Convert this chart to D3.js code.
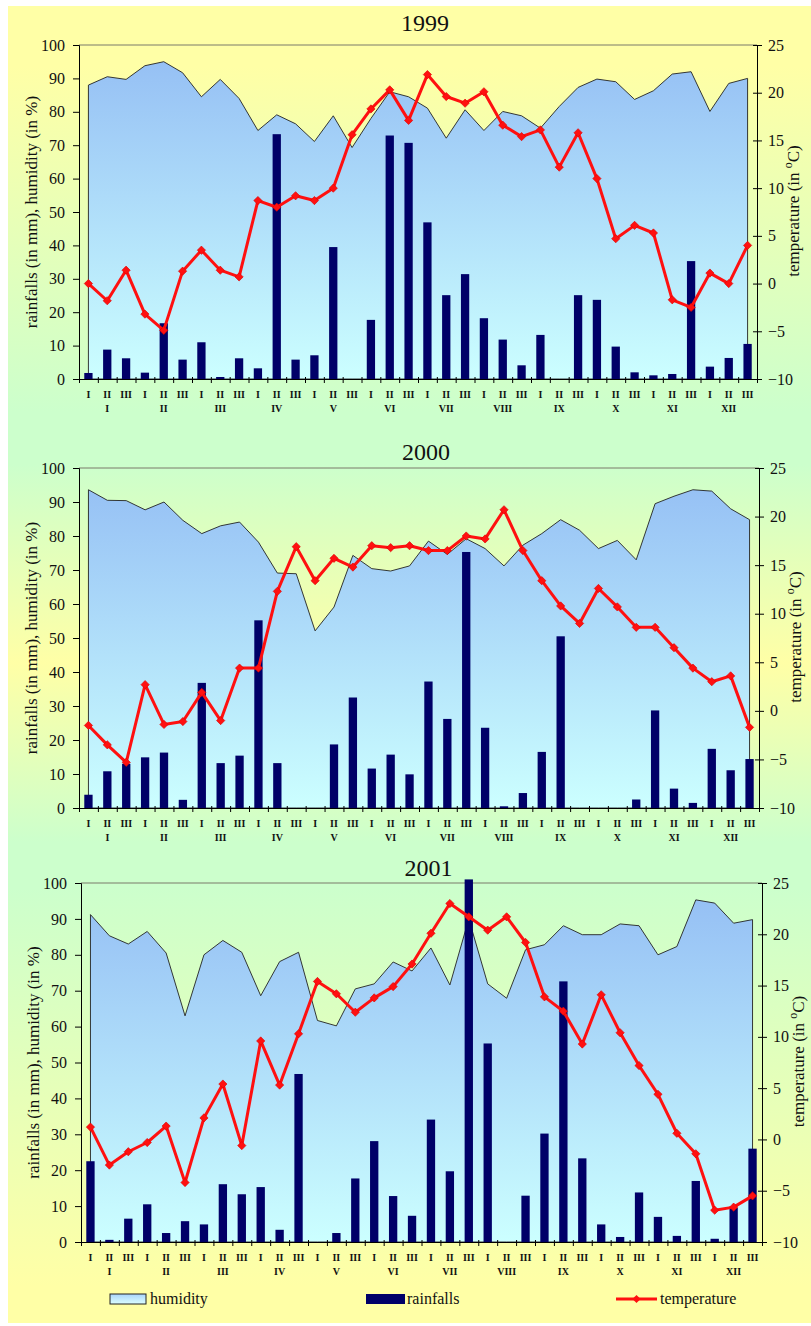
<!DOCTYPE html>
<html>
<head>
<meta charset="utf-8">
<script src="https://cdn.jsdelivr.net/npm/d3@7"></script>
<style>
  html, body { margin: 0; padding: 0; background: #ffffff; }
  svg { display: block; }
  svg text { font-family: "Liberation Serif", "Times New Roman", Times, serif; }
</style>
</head>
<body>
<svg id="chart" width="811" height="1326"></svg>
<script>
// ---- data -------------------------------------------------------------
const years = ["1999", "2000", "2001"];
const decades = ["I", "II", "III"];
const months = ["I", "II", "III", "IV", "V", "VI", "VII", "VIII", "IX", "X", "XI", "XII"];
const leftTicks = [0, 10, 20, 30, 40, 50, 60, 70, 80, 90, 100];
const rightTicks = [-10, -5, 0, 5, 10, 15, 20, 25];

// rainfall per decade (mm)
const rain1999 = [1.8, 8.8, 6.2, 1.9, 16.7, 5.8, 11.0, 0.6, 6.2, 3.2, 73.3, 5.8, 7.1, 39.5, 0, 17.7, 72.9, 70.7,
                  46.9, 25.1, 31.4, 18.2, 11.8, 4.1, 13.2, 0, 25.1, 23.7, 9.7, 2.0, 1.1, 1.5, 35.3, 3.7, 6.3, 10.5];
const rain2000 = [3.9, 10.8, 13.0, 14.9, 16.3, 2.4, 36.8, 13.2, 15.4, 55.2, 13.2, 0, 0, 18.7, 32.5, 11.6, 15.7, 9.9,
                  37.2, 26.2, 75.3, 23.6, 0.5, 4.4, 16.5, 50.5, 0, 0, 0, 2.5, 28.7, 5.7, 1.5, 17.4, 11.1, 14.4];
const rain2001 = [22.5, 0.6, 6.5, 10.5, 2.5, 5.8, 4.9, 16.1, 13.3, 15.3, 3.4, 46.8, 0, 2.5, 17.7, 28.1, 12.8, 7.3,
                  34.1, 19.7, 101.0, 55.3, 0, 12.9, 30.2, 72.6, 23.3, 4.9, 1.4, 13.8, 7.0, 1.7, 17.0, 0.9, 9.5, 26.0];

// relative humidity per decade (%)
const hum1999 = [88.0, 90.5, 89.7, 93.8, 95.0, 91.7, 84.5, 89.7, 84.0, 74.4, 79.1, 76.4, 71.1, 78.8, 69.3, 78.0, 86.0, 84.5,
                 81.1, 72.1, 80.6, 74.4, 80.1, 78.8, 75.1, 81.6, 87.3, 89.8, 89.0, 83.7, 86.3, 91.3, 92.0, 80.1, 88.5, 90.0];
const hum2000 = [93.6, 90.5, 90.4, 87.7, 90.0, 84.6, 80.7, 83.0, 84.1, 78.2, 69.1, 68.9, 52.1, 59.1, 74.3, 70.4, 69.7, 71.2,
                 78.5, 74.6, 79.2, 76.3, 71.2, 77.3, 80.7, 84.8, 81.7, 76.3, 78.7, 73.0, 89.5, 91.7, 93.6, 93.2, 88.0, 84.8];
const hum2001 = [91.2, 85.3, 83.0, 86.5, 80.5, 63.0, 80.0, 84.0, 80.7, 68.6, 78.1, 80.7, 61.7, 60.2, 70.5, 71.9, 78.0, 75.5,
                 81.9, 71.6, 90.0, 71.9, 67.9, 81.4, 82.8, 88.1, 85.6, 85.6, 88.6, 88.1, 80.0, 82.3, 95.3, 94.4, 88.8, 89.8];

// mean air temperature per decade (°C)
const temp1999 = [0.0, -1.8, 1.4, -3.2, -4.9, 1.3, 3.5, 1.4, 0.7, 8.7, 8.0, 9.2, 8.7, 10.0, 15.6, 18.3, 20.3, 17.1,
                  21.9, 19.6, 18.9, 20.1, 16.6, 15.4, 16.1, 12.2, 15.8, 11.0, 4.7, 6.1, 5.3, -1.7, -2.5, 1.1, 0.0, 4.0];
const temp2000 = [-1.5, -3.5, -5.3, 2.7, -1.4, -1.1, 1.9, -1.0, 4.4, 4.4, 12.3, 16.9, 13.4, 15.7, 14.8, 17.0, 16.8, 17.0,
                  16.5, 16.5, 18.0, 17.7, 20.7, 16.5, 13.4, 10.8, 9.0, 12.6, 10.7, 8.6, 8.6, 6.5, 4.4, 3.0, 3.6, -1.7];
const temp2001 = [1.2, -2.5, -1.2, -0.3, 1.3, -4.2, 2.1, 5.4, -0.6, 9.6, 5.3, 10.3, 15.4, 14.2, 12.4, 13.8, 14.9, 17.1,
                  20.1, 23.0, 21.7, 20.4, 21.7, 19.2, 13.9, 12.5, 9.3, 14.1, 10.4, 7.2, 4.4, 0.6, -1.4, -6.9, -6.6, -5.5];

const rainfall = [rain1999, rain2000, rain2001];
const humidity = [hum1999, hum2000, hum2001];
const temperature = [temp1999, temp2000, temp2001];

// ---- layout -----------------------------------------------------------
const W = 811, H = 1326;
const panels = [
  { left: 79, right: 757, top: 45,  bottom: 379,  titleY: 31 },
  { left: 79, right: 759, top: 468, bottom: 808,  titleY: 460 },
  { left: 81, right: 762, top: 883, bottom: 1242, titleY: 876 }
];

const svg = d3.select("#chart");
const defs = svg.append("defs");

// page background: yellow / green bands
const bg = defs.append("linearGradient").attr("id", "pageBg")
  .attr("gradientUnits", "userSpaceOnUse")
  .attr("x1", 0).attr("y1", 0).attr("x2", 0).attr("y2", H);
[[0, "#ffffa6"], [0.05, "#ffffa6"], [0.31, "#ccffcc"], [0.35, "#ccffcc"], [0.50, "#ffffa6"],
 [0.635, "#ccffcc"], [0.67, "#ccffcc"], [0.97, "#ffffa6"], [1, "#ffffa6"]]
  .forEach(([o, c]) => bg.append("stop").attr("offset", o).attr("stop-color", c));

svg.append("rect").attr("x", 8).attr("y", 6).attr("width", W - 8).attr("height", H - 9)
  .attr("fill", "url(#pageBg)");

const idx = d3.range(36);

panels.forEach((p, k) => {
  const g = svg.append("g");

  // scales
  const x = d3.scaleBand().domain(idx).range([p.left, p.right]).paddingInner(0.56).paddingOuter(0.28);
  const xEdge = d3.scaleLinear().domain([0, 36]).range([p.left, p.right]);
  const xc = i => x(i) + x.bandwidth() / 2;
  const yL = d3.scaleLinear().domain([0, 100]).range([p.bottom, p.top]);
  const yR = d3.scaleLinear().domain([-10, 25]).range([p.bottom, p.top]);

  // humidity fill gradient, spanning the plot height
  const gid = "humGrad" + k;
  const hg = defs.append("linearGradient").attr("id", gid)
    .attr("gradientUnits", "userSpaceOnUse")
    .attr("x1", 0).attr("y1", p.top).attr("x2", 0).attr("y2", p.bottom);
  hg.append("stop").attr("offset", 0).attr("stop-color", "#93bdf4");
  hg.append("stop").attr("offset", 1).attr("stop-color", "#ccffff");

  // plot frame top line
  g.append("line").attr("x1", p.left).attr("x2", p.right).attr("y1", p.top).attr("y2", p.top)
    .attr("stroke", "#7a7a6a").attr("stroke-width", 1);

  // humidity area
  const area = d3.area().x((d, i) => xc(i)).y0(yL(0)).y1(d => yL(d));
  g.append("path").datum(humidity[k]).attr("d", area)
    .attr("fill", `url(#${gid})`).attr("stroke", "#222").attr("stroke-width", 0.9)
    .attr("stroke-linejoin", "round");

  // rainfall bars
  g.append("g").selectAll("rect").data(rainfall[k]).join("rect")
    .attr("x", (d, i) => x(i)).attr("width", x.bandwidth())
    .attr("y", d => yL(d)).attr("height", d => yL(0) - yL(d))
    .attr("fill", "#000068");

  // axes
  const axL = g.append("g").attr("transform", `translate(${p.left},0)`)
    .call(d3.axisLeft(yL).tickValues(leftTicks).tickSize(6).tickPadding(8));
  const axR = g.append("g").attr("transform", `translate(${p.right},0)`)
    .call(d3.axisRight(yR).tickValues(rightTicks).tickSize(5).tickPadding(6));
  axR.selectAll(".tick line").attr("x1", -4);
  const axB = g.append("g").attr("transform", `translate(0,${p.bottom})`)
    .call(d3.axisBottom(xEdge).tickValues(d3.range(37)).tickFormat("").tickSize(4));
  axB.selectAll(".tick line").attr("y1", -2);

  [axL, axR, axB].forEach(a => {
    a.attr("font-family", null).attr("font-size", null);
    a.select(".domain").attr("stroke", "#000").attr("stroke-width", 1);
    a.selectAll(".tick line").attr("stroke", "#000");
    a.selectAll("text").style("font-size", "16px").attr("fill", "#111");
  });

  // temperature line with diamond markers
  const line = d3.line().x((d, i) => xc(i)).y(d => yR(d));
  g.append("path").datum(temperature[k]).attr("d", line)
    .attr("fill", "none").attr("stroke", "#ff1010").attr("stroke-width", 3)
    .attr("stroke-linejoin", "round");
  const diamond = d3.symbol(d3.symbolSquare, 34);
  g.append("g").selectAll("path").data(temperature[k]).join("path")
    .attr("d", diamond)
    .attr("transform", (d, i) => `translate(${xc(i)},${yR(d)}) rotate(45)`)
    .attr("fill", "#ff1010").attr("stroke", "#e00000").attr("stroke-width", 0.6);

  // decade and month labels
  const lab = g.append("g").attr("fill", "#111").attr("text-anchor", "middle")
    .style("font-size", "10px").style("font-weight", "bold");
  lab.selectAll("text.dec").data(idx).join("text").attr("class", "dec")
    .attr("x", i => xc(i)).attr("y", p.bottom + 19)
    .text(i => decades[i % 3]);
  lab.selectAll("text.mon").data(months).join("text").attr("class", "mon")
    .attr("x", (m, j) => xc(j * 3 + 1)).attr("y", p.bottom + 33)
    .text(m => m);

  // title
  g.append("text").attr("x", (p.left + p.right) / 2 + 7).attr("y", p.titleY)
    .attr("text-anchor", "middle").style("font-size", "24px")
    .attr("fill", "#111").text(years[k]);

  // axis titles
  const cy = (p.top + p.bottom) / 2;
  g.append("text").attr("transform", `translate(${p.left - 42},${cy}) rotate(-90)`)
    .attr("text-anchor", "middle").style("font-size", "17px")
    .attr("fill", "#111").text("rainfalls (in mm), humidity (in %)");
  const rt = g.append("text").attr("transform", `translate(${p.right + 42},${cy - 1}) rotate(-90)`)
    .attr("text-anchor", "middle").style("font-size", "17px").attr("fill", "#111");
  rt.append("tspan").text("temperature (in ");
  rt.append("tspan").attr("baseline-shift", "super").style("font-size", "12px").text("o");
  rt.append("tspan").text("C)");
});

// ---- legend -----------------------------------------------------------
const leg = svg.append("g").style("font-size", "16px").attr("fill", "#111");
const legY = 1299;
const lg = defs.append("linearGradient").attr("id", "legHum").attr("x1", 0).attr("y1", 0).attr("x2", 0).attr("y2", 1);
lg.append("stop").attr("offset", 0).attr("stop-color", "#a9d4fa");
lg.append("stop").attr("offset", 1).attr("stop-color", "#dcffff");
leg.append("rect").attr("x", 110).attr("y", legY - 5).attr("width", 36).attr("height", 10)
  .attr("fill", "url(#legHum)").attr("stroke", "#222").attr("stroke-width", 1);
leg.append("text").attr("x", 150).attr("y", legY + 5).text("humidity");
leg.append("rect").attr("x", 366).attr("y", legY - 5).attr("width", 39).attr("height", 10).attr("fill", "#000068");
leg.append("text").attr("x", 407).attr("y", legY + 5).text("rainfalls");
leg.append("line").attr("x1", 616).attr("x2", 657).attr("y1", legY).attr("y2", legY)
  .attr("stroke", "#ff1010").attr("stroke-width", 3);
leg.append("path").attr("d", d3.symbol(d3.symbolSquare, 34))
  .attr("transform", `translate(636.5,${legY}) rotate(45)`).attr("fill", "#ff1010");
leg.append("text").attr("x", 660).attr("y", legY + 5).text("temperature");
</script>
</body>
</html>
